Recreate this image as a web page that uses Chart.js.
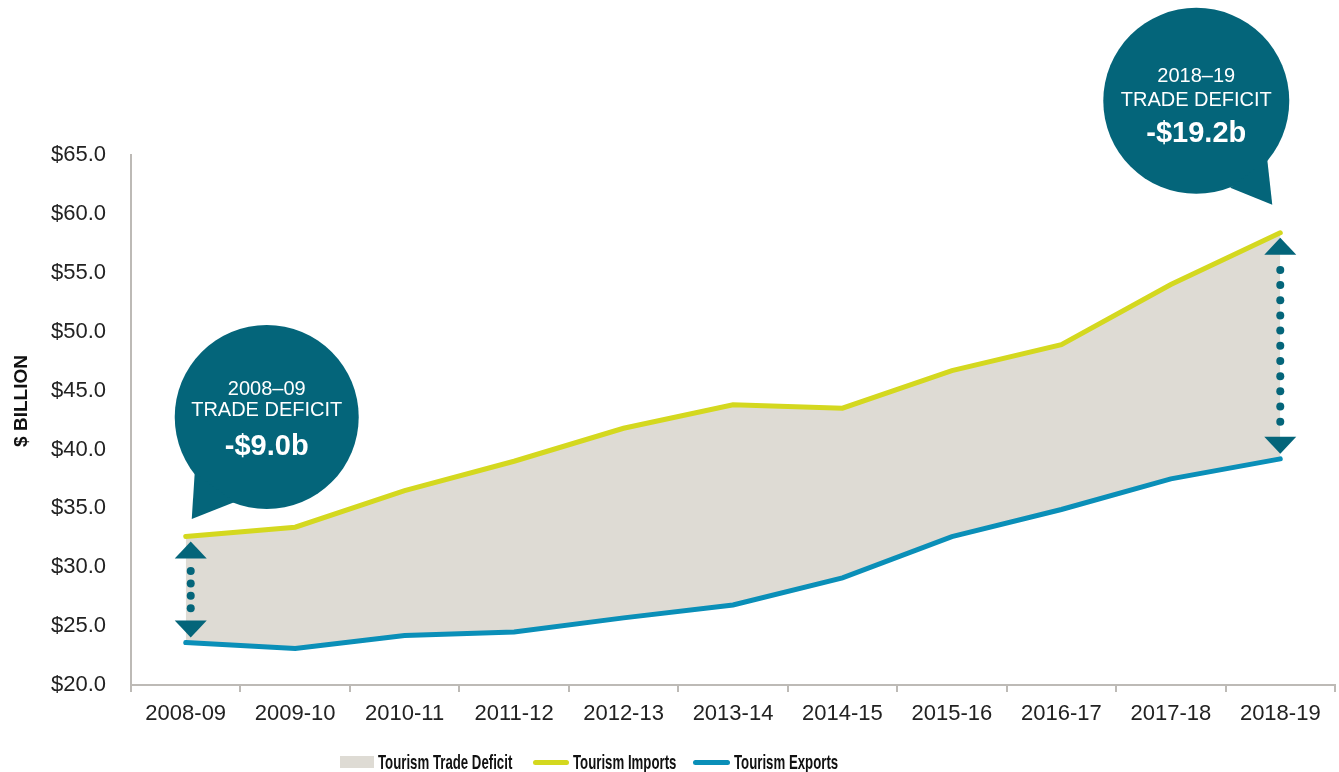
<!DOCTYPE html>
<html>
<head>
<meta charset="utf-8">
<script src="https://cdn.jsdelivr.net/npm/chart.js@4.4.1/dist/chart.umd.min.js"></script>
<style>
  html, body { margin: 0; padding: 0; background: #fff; }
  #wrap { position: relative; width: 1339px; height: 772px; overflow: hidden; }
  #chart { position: absolute; left: 0; top: 0; }
  .leg { position: absolute; top: 751px; height: 22px; display: flex; align-items: center; }
  .leg b { display: inline-block; font: bold 21px "Liberation Sans", Arial, sans-serif; color: #111;
           transform: scaleX(0.63); transform-origin: 0 50%; white-space: nowrap; }
  .sw { display: inline-block; margin-right: 4px; }
</style>
</head>
<body>
<div id="wrap">
  <canvas id="chart" width="1339" height="772"></canvas>
  <div class="leg" style="left:340px"><span class="sw" style="width:34px;height:12px;background:#dedbd4"></span><b>Tourism Trade Deficit</b></div>
  <div class="leg" style="left:533px"><span class="sw" style="width:36px;height:5px;border-radius:3px;background:#d4d81f"></span><b>Tourism Imports</b></div>
  <div class="leg" style="left:693px"><span class="sw" style="width:37px;height:5px;border-radius:3px;background:#0a8fb8"></span><b>Tourism Exports</b></div>
</div>
<script>
const years = ['2008-09','2009-10','2010-11','2011-12','2012-13','2013-14','2014-15','2015-16','2016-17','2017-18','2018-19'];
const imports = [32.6, 33.4, 36.5, 39.0, 41.8, 43.8, 43.5, 46.7, 48.9, 54.0, 58.4];
const exports = [23.6, 23.1, 24.2, 24.5, 25.7, 26.8, 29.1, 32.6, 34.9, 37.5, 39.2];
const yMin = 20, yMax = 65, yStep = 5;

// callout text
const calloutIndex = [0, 10];
const calloutPeriod = ['2008–09', '2018–19'];
const calloutValue = ['-$9.0b', '-$19.2b'];

const TEAL = '#04657a';
const FONT = '"Liberation Sans", Arial, sans-serif';

// bubble placement, px offsets from the data point / bubble centre
const bubbleLayout = [
  { dx: 81, cy: 42.75, r: 92, tail: [[-72, 56], [-75, 102], [-32, 85]], text: [-28, -7, 30], arrowDx: 5 },
  { dx: -84, cy: 69.6, r: 93, tail: [[71, 59], [76, 104], [34, 87]], text: [-24, 0, 33], arrowDx: 0 }
];

function drawArrow(ctx, x, yTop, yBot) {
  const w = 16, h = 17, inset = 5;
  const a1 = yTop + inset, a2 = yBot - inset;
  ctx.fillStyle = TEAL;
  ctx.beginPath();
  ctx.moveTo(x, a1); ctx.lineTo(x + w, a1 + h); ctx.lineTo(x - w, a1 + h); ctx.closePath();
  ctx.fill();
  ctx.beginPath();
  ctx.moveTo(x, a2); ctx.lineTo(x + w, a2 - h); ctx.lineTo(x - w, a2 - h); ctx.closePath();
  ctx.fill();
  const b1 = a1 + h, b2 = a2 - h;
  const n = Math.round((b2 - b1) / 16);
  const gap = (b2 - b1) / (n + 1);
  for (let i = 1; i <= n; i++) {
    ctx.beginPath();
    ctx.arc(x, b1 + gap * i, 4, 0, Math.PI * 2);
    ctx.fill();
  }
}

const calloutPlugin = {
  id: 'callouts',
  afterDatasetsDraw(chart) {
    const ctx = chart.ctx, xs = chart.scales.x, ys = chart.scales.y;
    ctx.save();
    calloutIndex.forEach((idx, i) => {
      const L = bubbleLayout[i];
      const px = xs.getPixelForValue(idx);
      drawArrow(ctx, px + L.arrowDx, ys.getPixelForValue(imports[idx]), ys.getPixelForValue(exports[idx]));
      const cx = px + L.dx, cy = ys.getPixelForValue(L.cy);
      ctx.fillStyle = TEAL;
      ctx.beginPath();
      ctx.arc(cx, cy, L.r, 0, Math.PI * 2);
      ctx.fill();
      ctx.beginPath();
      L.tail.forEach((p, k) => k ? ctx.lineTo(cx + p[0], cy + p[1]) : ctx.moveTo(cx + p[0], cy + p[1]));
      ctx.closePath();
      ctx.fill();
      ctx.fillStyle = '#fff';
      ctx.textAlign = 'center';
      ctx.textBaseline = 'middle';
      ctx.font = '20px ' + FONT;
      ctx.fillText(calloutPeriod[i], cx, cy + L.text[0]);
      ctx.fillText('TRADE DEFICIT', cx, cy + L.text[1]);
      ctx.font = 'bold 29px ' + FONT;
      ctx.fillText(calloutValue[i], cx, cy + L.text[2]);
    });
    // y axis title
    ctx.translate(22, (chart.chartArea.top + chart.chartArea.bottom) / 2 - 19);
    ctx.rotate(-Math.PI / 2);
    ctx.fillStyle = '#111';
    ctx.font = 'bold 19px ' + FONT;
    ctx.fillText('$ BILLION', 0, 0);
    ctx.restore();
  }
};

new Chart(document.getElementById('chart'), {
  type: 'line',
  data: {
    labels: years,
    datasets: [
      { label: 'Tourism Imports', data: imports, borderColor: '#d4d81f', borderWidth: 5,
        backgroundColor: '#dedbd4', fill: '+1', pointRadius: 0, tension: 0, borderCapStyle: 'round' },
      { label: 'Tourism Exports', data: exports, borderColor: '#0a8fb8', borderWidth: 5,
        fill: false, pointRadius: 0, tension: 0, borderCapStyle: 'round' }
    ]
  },
  options: {
    responsive: false,
    animation: false,
    devicePixelRatio: 1,
    layout: { padding: { top: 155, right: 4, left: 0, bottom: 0 } },
    plugins: {
      legend: { display: false },
      tooltip: { enabled: false },
      filler: { drawTime: 'beforeDatasetsDraw' }
    },
    scales: {
      x: {
        offset: true,
        grid: { display: true, offset: true, drawOnChartArea: false, drawTicks: true, tickLength: 7, color: '#bdbab6', lineWidth: 2 },
        border: { display: true, color: '#bdbab6', width: 2 },
        ticks: { color: '#222', font: { family: FONT, size: 22 }, padding: 9, maxRotation: 0, autoSkip: false },
        afterFit: s => { s.height = 87; }
      },
      y: {
        min: yMin, max: yMax,
        grid: { display: false, drawTicks: false },
        border: { display: true, color: '#bdbab6', width: 2 },
        ticks: { stepSize: yStep, color: '#222', font: { family: FONT, size: 22 }, padding: 25,
                 callback: v => '$' + v.toFixed(1) },
        afterFit: s => { s.width = 131; }
      }
    }
  },
  plugins: [calloutPlugin]
});
</script>
</body>
</html>
